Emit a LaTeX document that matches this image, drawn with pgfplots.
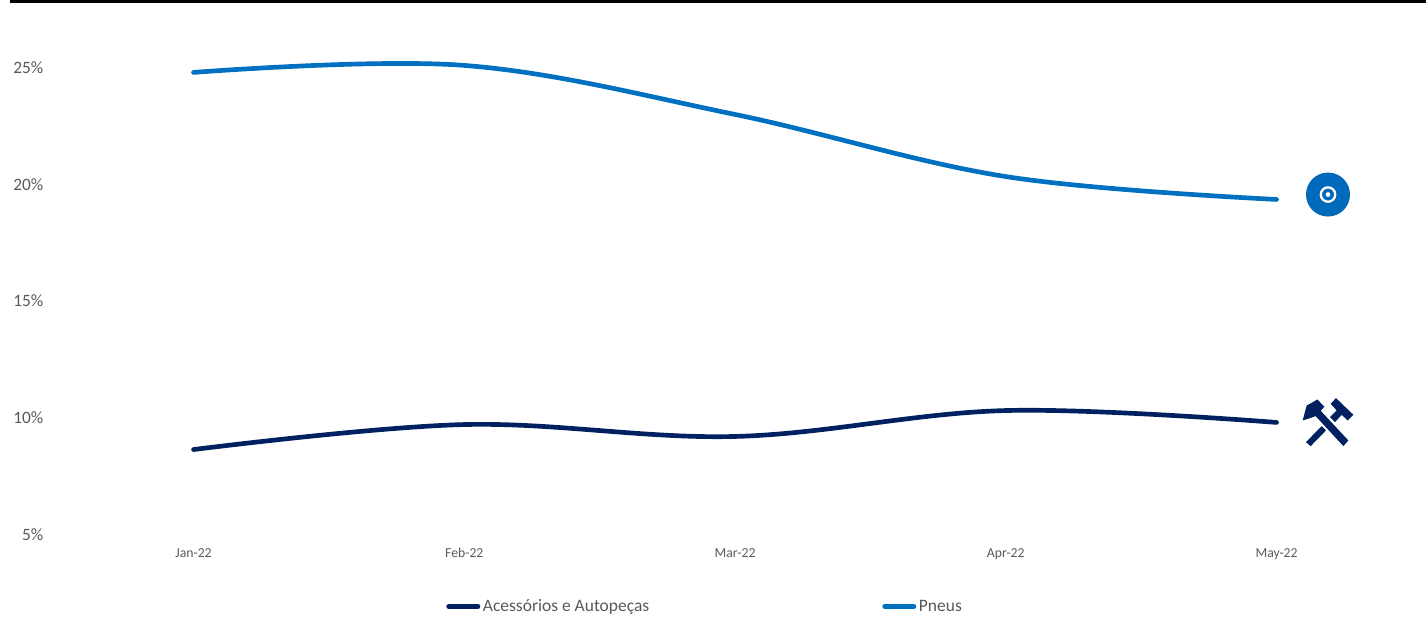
\documentclass[border=0pt]{standalone}
\usepackage{pgfplots}
\pgfplotsset{compat=1.18}
\usepackage{fontspec}
\setmainfont{Carlito}
\definecolor{navyline}{HTML}{002060}
\definecolor{blueline}{HTML}{0070C0}
\definecolor{discblue}{HTML}{0069BA}
\definecolor{labelgrey}{HTML}{595959}

% Polygon helpers for the icons (offsets in pt from the mark position)
\newcommand{\mvto}[2]{\pgfpathmoveto{\pgfqpoint{#1pt}{#2pt}}}
\newcommand{\lnto}[2]{\pgfpathlineto{\pgfqpoint{#1pt}{#2pt}}}

% Series end icons
\pgfdeclareplotmark{tyre}{%
  \pgfsetfillcolor{discblue}%
  \pgfpathcircle{\pgfpointorigin}{16.5pt}\pgfusepath{fill}%
  \pgfsetstrokecolor{white}\pgfsetlinewidth{1.7pt}%
  \pgfpathcircle{\pgfpointorigin}{5.4pt}\pgfusepath{stroke}%
  \pgfsetfillcolor{white}%
  \pgfpathcircle{\pgfpointorigin}{1.8pt}\pgfusepath{fill}%
}
\pgfdeclareplotmark{hammers}{%
  \pgfsetfillcolor{navyline}%
  \mvto{-19}{1.5}\lnto{-16}{12.75}\lnto{-13.5}{14}\lnto{-8}{17.25}\lnto{-2.75}{11.75}%
  \lnto{-5.5}{8.75}\lnto{15.25}{-13.5}\lnto{11.5}{-17.75}\lnto{-9.25}{4.75}\lnto{-13.5}{3.25}%
  \pgfpathclose
  \mvto{6}{18.25}\lnto{19}{5.75}\lnto{14.75}{1.5}\lnto{10.25}{5.75}\lnto{5.25}{0.25}%
  \lnto{1.5}{4}\lnto{6.5}{9}\lnto{2}{14}%
  \pgfpathclose
  \mvto{-16.5}{-14.75}\lnto{-4.75}{-2.75}\lnto{-1.5}{-6}\lnto{-13}{-17.75}%
  \pgfpathclose
  \pgfusepath{fill}%
}

\begin{document}
\begin{tikzpicture}
\useasboundingbox (0,0) rectangle (1069.5pt,465pt);
\begin{axis}[
  at={(37.9pt,64.1pt)}, anchor=south west,
  scale only axis, width=1027.5pt, height=396.75pt,
  xmin=-0.52817, xmax=4.5319, ymin=5, ymax=27.655,
  axis line style={draw=none},
  tick style={draw=none},
  xtick={0,1,2,3,4},
  xticklabels={Jan-22,Feb-22,Mar-22,Apr-22,May-22},
  ytick={5,10,15,20,25},
  yticklabel={\pgfmathprintnumber{\tick}\%},
  /pgf/number format/assume math mode=true,
  xticklabel style={font=\fontsize{10.3}{12}\selectfont,text=labelgrey,yshift=-6.6pt,text height=7pt,text depth=2pt},
  yticklabel style={font=\fontsize{13}{15}\selectfont,text=labelgrey,xshift=-1.9pt},
  clip=false,
  legend style={
    at={(296.6pt,-54pt)}, anchor=west, draw=none, fill=none,
    legend columns=4, inner sep=0pt,
    font=\fontsize{13.1}{15}\selectfont, text=labelgrey,
    /tikz/column 2/.style={column sep=172.8pt},
    legend cell align=left,
  },
  legend image code/.code={
    \draw[#1,line width=3.5pt,line cap=round] (0pt,0pt)--(22pt,0pt);
  },
]
\addplot[navyline,line width=3.5pt,line cap=round,smooth,tension=0.6]
  coordinates {(0,8.64)(1,9.71)(2,9.20)(3,10.31)(4,9.80)};
\addlegendentry{Acessórios e Autopeças}
\addplot[blueline,line width=3.5pt,line cap=round,smooth,tension=0.6]
  coordinates {(0,24.79)(1,25.09)(2,22.99)(3,20.33)(4,19.35)};
\addlegendentry{Pneus}
\addplot[only marks,mark=tyre,forget plot] coordinates {(4.19,19.56)};
\addplot[only marks,mark=hammers,forget plot] coordinates {(4.19,9.80)};
\end{axis}
\fill[black] (7.5pt,462.75pt) rectangle (1069.5pt,465pt);
\end{tikzpicture}
\end{document}
